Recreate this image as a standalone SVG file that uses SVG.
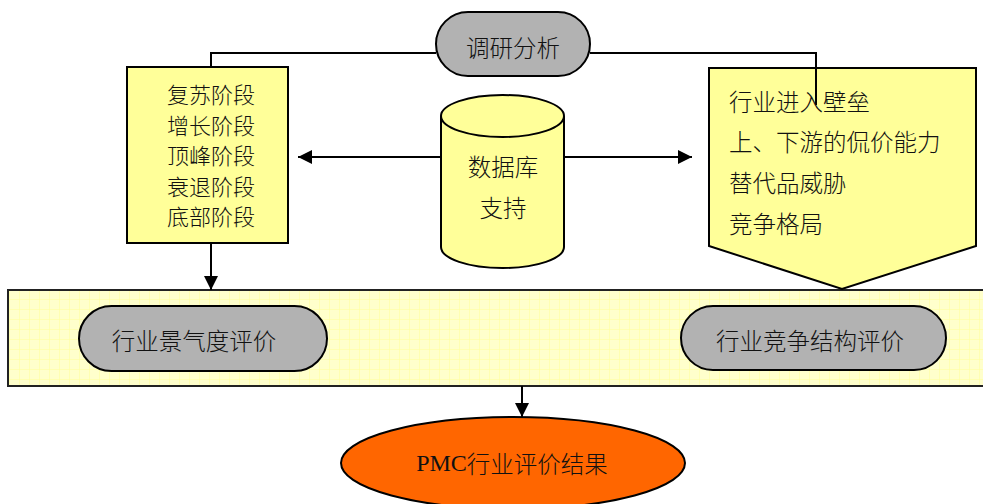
<svg xmlns="http://www.w3.org/2000/svg" width="983" height="504" viewBox="0 0 983 504">
<defs>
<pattern id="grid" width="10" height="10" patternUnits="userSpaceOnUse">
<rect width="10" height="10" fill="#FFFFCC"/>
<path d="M10 0V10M0 10H10" stroke="#FFFF99" stroke-width="1" fill="none"/>
</pattern>
<marker id="arr" viewBox="0 0 10 10" refX="10" refY="5" markerWidth="14" markerHeight="14" markerUnits="userSpaceOnUse" orient="auto">
<path d="M0 0L10 5L0 10Z" fill="#000"/>
</marker>
<style>
.t{font-family:"Noto Sans CJK SC","Noto Sans CJK JP",sans-serif;font-size:23.5px;font-weight:300;fill:#111;}
.s{font-size:22px;}
.c{text-anchor:middle;dominant-baseline:central;}
.box{fill:#FFFF99;stroke:#000;stroke-width:2;}
.pill{fill:#B2B2B2;stroke:#000;stroke-width:2;}
.ln{fill:none;stroke:#000;stroke-width:2;}
</style>
</defs>
<rect width="983" height="504" fill="#fff"/>
<g id="band">
<rect x="8" y="290" width="980" height="96" fill="url(#grid)" stroke="#222" stroke-width="2"/>
</g>
<g id="connectors">
<path class="ln" d="M211 67V53H436"/>
<path class="ln" d="M590 53H816V105"/>
<path class="ln" d="M452 157H298" marker-end="url(#arr)"/>
<path class="ln" d="M561 157H692" marker-end="url(#arr)"/>
<path class="ln" d="M211 243V290" marker-end="url(#arr)"/>
<path class="ln" d="M522 386V417" marker-end="url(#arr)"/>
</g>
<g id="research">
<rect class="pill" x="436" y="12" width="154" height="64" rx="32" ry="32"/>
<text class="t c" x="513" y="47">调研分析</text>
</g>
<g id="stages">
<rect class="box" x="127" y="67" width="161" height="176"/>
<text class="t s" x="167" y="103">复苏阶段</text>
<text class="t s" x="167" y="133.5">增长阶段</text>
<text class="t s" x="167" y="164">顶峰阶段</text>
<text class="t s" x="167" y="194.5">衰退阶段</text>
<text class="t s" x="167" y="225">底部阶段</text>
</g>
<g id="database">
<path class="box" d="M441 116V247A61.5 21 0 0 0 564 247V116"/>
<ellipse class="box" cx="502.5" cy="116" rx="61.5" ry="21"/>
<text class="t c" x="503" y="166">数据库</text>
<text class="t c" x="503" y="207">支持</text>
</g>
<g id="competition">
<path class="box" d="M709 68H976V246L842 289L709 246Z"/>
<path class="ln" d="M816 68V105"/>
<text class="t" x="729" y="111">行业进入壁垒</text>
<text class="t" x="729" y="151">上、下游的侃价能力</text>
<text class="t" x="729" y="192">替代品威胁</text>
<text class="t" x="729" y="233">竞争格局</text>
</g>
<g id="prosperity">
<rect class="pill" x="79" y="306" width="248" height="65" rx="32.5" ry="32.5"/>
<text class="t c" x="194" y="340">行业景气度评价</text>
</g>
<g id="structure">
<rect class="pill" x="681" y="306" width="265" height="64" rx="32" ry="32"/>
<text class="t c" x="810" y="340">行业竞争结构评价</text>
</g>
<g id="result">
<ellipse cx="513" cy="463" rx="172" ry="46" fill="#FF6600" stroke="#000" stroke-width="2"/>
<text class="t c" x="512" y="463"><tspan font-family="Liberation Serif, serif" font-size="24">PMC</tspan>行业评价结果</text>
</g>
</svg>
